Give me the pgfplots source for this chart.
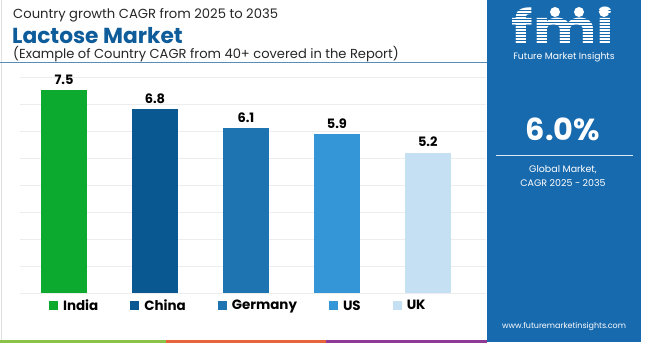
\documentclass[border=0pt]{standalone}
\usepackage{pgfplots}
\pgfplotsset{compat=1.18}
\usepackage{fontspec}
\setmainfont{Poppins}
\definecolor{cIndia}{RGB}{12,170,46}
\definecolor{cChina}{RGB}{10,88,145}
\definecolor{cGermany}{RGB}{30,116,176}
\definecolor{cUS}{RGB}{52,150,214}
\definecolor{cUK}{RGB}{196,224,242}
\definecolor{panel}{RGB}{24,106,174}
\definecolor{titleblue}{RGB}{14,92,154}
\definecolor{rule}{RGB}{90,140,185}
\definecolor{sGreen}{RGB}{139,195,74}
\definecolor{sOrange}{RGB}{232,100,60}
\definecolor{sPurple}{RGB}{142,58,150}
\begin{document}
\begin{tikzpicture}[x=1bp,y=1bp]
\useasboundingbox (0,0) rectangle (650,343);
\fill[white] (0,0) rectangle (650,343);
\draw[gray!25, line width=1bp] (1,0) -- (1,343);
% titles
\node[anchor=base west, inner sep=0, text=black!85, font=\fontsize{13.2}{15}\selectfont] at (13,325) {Country growth CAGR from 2025 to 2035};
\node[anchor=base west, inner sep=0, text=titleblue, font=\bfseries\fontsize{21.8}{24}\selectfont] at (12,300) {Lactose Market};
\node[anchor=base west, inner sep=0, text=black!85, font=\fontsize{13.1}{15}\selectfont] at (13,285) {(Example of Country CAGR from 40+ covered in the Report)};
\draw[rule, line width=0.9bp] (0,280.5) -- (487,280.5);
% bottom stripe
\fill[sGreen] (0,0) rectangle (166,3);
\fill[sOrange] (166,0) rectangle (326,3);
\fill[sPurple] (326,0) rectangle (487,3);
% right panel
\fill[panel] (487,1) rectangle (641,343);
\node[anchor=base, inner sep=0, text=white, text depth=0pt, font=\bfseries\fontsize{47}{47}\selectfont, xscale=1.28] at (563,298.5) {fmi};
\foreach \yy in {299.5,302.5,...,335} {\draw[panel, line width=0.9bp] (505,\yy) -- (625,\yy);}
\fill[white] (555,331) circle (5);
\fill[white] (579,331) circle (5);
\fill[white] (604,331) circle (5);
\node[anchor=center, inner sep=0, text=white, font=\fontsize{9.3}{11}\selectfont] at (564,285.5) {Future Market Insights};
\node[anchor=center, inner sep=0, text=white, font=\bfseries\fontsize{30.5}{33}\selectfont] at (563,214) {6.0\%};
\draw[white!85!panel, line width=1bp] (496,188) -- (633,188);
\node[anchor=center, inner sep=0, text=white, font=\fontsize{9.5}{12}\selectfont] at (563,173) {Global Market,};
\node[anchor=center, inner sep=0, text=white, font=\fontsize{9.5}{12}\selectfont] at (563,160) {CAGR 2025 - 2035};
\node[anchor=center, inner sep=0, text=white, font=\fontsize{8}{10}\selectfont] at (564,16) {www.futuremarketinsights.com};
% chart
\begin{axis}[
  at={(20bp,50bp)}, anchor=south west, scale only axis,
  width=466bp, height=216bp,
  xmin=-0.484, xmax=4.64, ymin=0, ymax=8,
  axis line style={draw=none}, tick style={draw=none},
  xtick=\empty, ytick={0,1,...,8}, yticklabels={},
  ymajorgrids, grid style={color=black!7, line width=0.8bp},
  clip=false,
  nodes near coords,
  nodes near coords style={font=\bfseries\fontsize{13}{14}\selectfont, text=black, yshift=2bp, /pgf/number format/.cd, fixed, fixed zerofill, precision=1, assume math mode=true},
  legend style={draw=none, fill=none, at={(0.062,-0.06)}, anchor=west, inner sep=0pt,
    font=\bfseries\fontsize{13.5}{15}\selectfont, legend columns=5,
    /tikz/every odd column/.append style={column sep=3bp},
    /tikz/every even column/.append style={column sep=30bp}},
  legend image code/.code={\fill[#1] (0bp,-4.5bp) rectangle (9bp,4.5bp);},
]
\addplot[ybar, bar width=46bp, bar shift=0pt, fill=cIndia, draw=none] coordinates {(0,7.5)};
\addlegendentry{India}
\addplot[ybar, bar width=46bp, bar shift=0pt, fill=cChina, draw=none] coordinates {(1,6.8)};
\addlegendentry{China}
\addplot[ybar, bar width=46bp, bar shift=0pt, fill=cGermany, draw=none] coordinates {(2,6.1)};
\addlegendentry{Germany}
\addplot[ybar, bar width=46bp, bar shift=0pt, fill=cUS, draw=none] coordinates {(3,5.9)};
\addlegendentry{US}
\addplot[ybar, bar width=46bp, bar shift=0pt, fill=cUK, draw=none] coordinates {(4,5.2)};
\addlegendentry{UK}
\end{axis}
\end{tikzpicture}
\end{document}
